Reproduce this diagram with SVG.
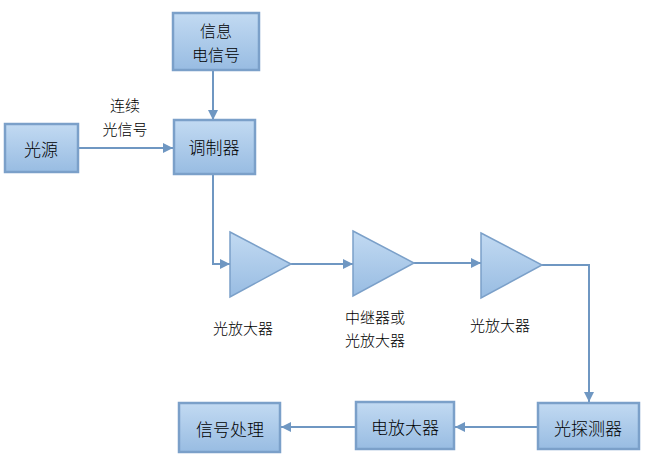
<svg xmlns="http://www.w3.org/2000/svg" width="656" height="462" viewBox="0 0 656 462">
<defs>
<linearGradient id="g" x1="0" y1="0" x2="0" y2="1">
<stop offset="0" stop-color="#c2daf2"/>
<stop offset="1" stop-color="#98bce2"/>
</linearGradient>
<marker id="a" viewBox="0 0 10 10" refX="10" refY="5" markerWidth="10" markerHeight="10" markerUnits="userSpaceOnUse" orient="auto">
<path d="M0,0 L10,5 L0,10 z" fill="#6f97c2"/>
</marker>
<style>
.box{fill:url(#g);stroke:#7ba0c9;stroke-width:2.5}
.tri{fill:url(#g);stroke:#7ba0c9;stroke-width:1.5}
.ln{fill:none;stroke:#6f97c2;stroke-width:2;marker-end:url(#a)}
text{font-family:"Noto Sans CJK SC","Noto Sans",sans-serif;font-size:17px;font-weight:300;fill:#000;text-anchor:middle;dominant-baseline:central}
.s{font-size:15px}
.m{font-size:16px}
</style>
</defs>
<rect width="656" height="462" fill="#fff"/>
<g id="connectors">
<path class="ln" d="M213,70 V120"/>
<path class="ln" d="M78,148 H173"/>
<path class="ln" d="M213,174 V264 H230"/>
<path class="ln" d="M291,264 H353"/>
<path class="ln" d="M414,263 H481"/>
<path class="ln" d="M542,265 H589 V402"/>
<path class="ln" d="M538,427 H455"/>
<path class="ln" d="M356,427 H281"/>
</g>
<g id="label-lianxu">
<text class="s" x="125" y="104">连续</text>
<text class="s" x="125" y="128">光信号</text>
</g>
<g id="xinxi"><rect class="box" x="173" y="13" width="86" height="57"/><text class="m" x="216" y="30">信息</text><text class="m" x="216" y="54">电信号</text></g>
<g id="guangyuan"><rect class="box" x="5" y="124" width="73" height="48"/><text x="41" y="148">光源</text></g>
<g id="tiaozhiqi"><rect class="box" x="174" y="120" width="81" height="54"/><text x="214" y="146">调制器</text></g>
<g id="amp1"><path class="tri" d="M230,232 L291,264 L230,297 z"/><text class="s" x="243" y="327">光放大器</text></g>
<g id="amp2"><path class="tri" d="M353,231 L414,263 L353,296 z"/><text class="s" x="375" y="316">中继器或</text><text class="s" x="375" y="339">光放大器</text></g>
<g id="amp3"><path class="tri" d="M481,233 L542,265 L481,298 z"/><text class="s" x="500" y="324">光放大器</text></g>
<g id="xinhaochuli"><rect class="box" x="179" y="403" width="101" height="49"/><text x="230" y="428">信号处理</text></g>
<g id="diandafangqi"><rect class="box" x="356" y="402" width="98" height="47"/><text x="405" y="426">电放大器</text></g>
<g id="guangtanceqi"><rect class="box" x="538" y="403" width="101" height="46"/><text x="588" y="427">光探测器</text></g>
</svg>
